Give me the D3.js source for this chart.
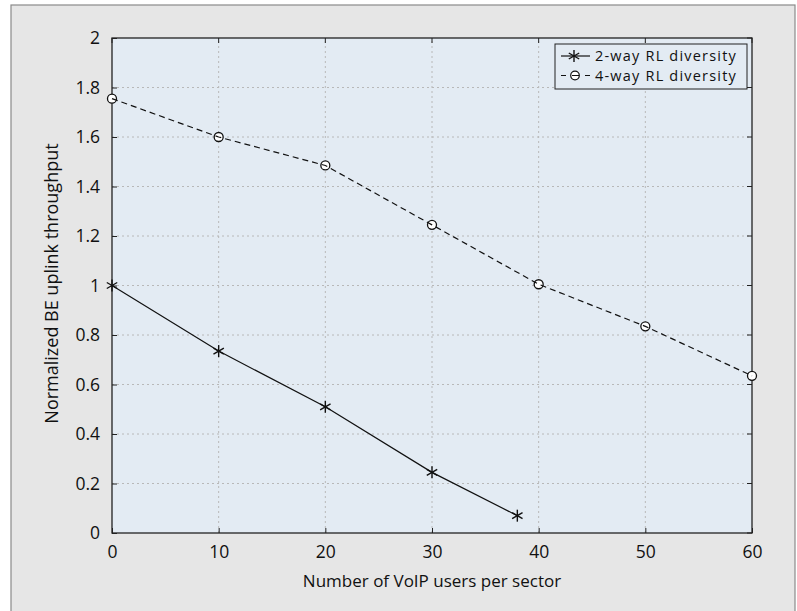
<!DOCTYPE html>
<html>
<head>
<meta charset="utf-8">
<script src="https://cdn.jsdelivr.net/npm/d3@7"></script>
<style>
  body { margin: 0; background: #fff; }
  svg text { font-family: "Open Sans", "Noto Sans", sans-serif; fill: #111; }
</style>
</head>
<body>
<div id="chart"></div>
<script>
// chart data
const users2 = [0, 10, 20, 30, 38];
const thr2 = [1.0, 0.735, 0.51, 0.245, 0.07];
const users4 = [0, 10, 20, 30, 40, 50, 60];
const thr4 = [1.755, 1.6, 1.485, 1.245, 1.005, 0.835, 0.635];
const xTicks = [0, 10, 20, 30, 40, 50, 60];
const yTicks = [0, 0.2, 0.4, 0.6, 0.8, 1, 1.2, 1.4, 1.6, 1.8, 2];
const seriesNames = ["2-way RL diversity", "4-way RL diversity"];

const W = 797, H = 611;
const M = {left: 112, right: 45, top: 38, bottom: 78};

const svg = d3.select('#chart').append('svg')
  .attr('width', W).attr('height', H);

// outer grey panel
svg.append('rect')
  .attr('x', 11).attr('y', 5).attr('width', 784).attr('height', 620)
  .attr('fill', '#e6e6e6').attr('stroke', '#8a8a8a').attr('stroke-width', 1.2);

const x = d3.scaleLinear().domain([0, 60]).range([M.left, W - M.right]);
const y = d3.scaleLinear().domain([0, 2]).range([H - M.bottom, M.top]);

// plot background
svg.append('rect')
  .attr('x', x(0)).attr('y', y(2))
  .attr('width', x(60) - x(0)).attr('height', y(0) - y(2))
  .attr('fill', '#e3ebf3');

// grid
svg.append('g').selectAll('line').data(xTicks.slice(1, -1)).join('line')
  .attr('x1', d => x(d)).attr('x2', d => x(d))
  .attr('y1', y(0)).attr('y2', y(2))
  .attr('stroke', '#b8b8b8').attr('stroke-dasharray', '2,3');
svg.append('g').selectAll('line').data(yTicks.slice(1, -1)).join('line')
  .attr('x1', x(0)).attr('x2', x(60))
  .attr('y1', d => y(d)).attr('y2', d => y(d))
  .attr('stroke', '#b8b8b8').attr('stroke-dasharray', '2,3');

// axes, ticks pointing inward
const xAxis = svg.append('g')
  .attr('transform', `translate(0,${y(0)})`)
  .call(d3.axisBottom(x).tickValues(xTicks).tickSize(-5).tickPadding(13).tickFormat(d3.format('d')));
const yAxis = svg.append('g')
  .attr('transform', `translate(${x(0)},0)`)
  .call(d3.axisLeft(y).tickValues(yTicks).tickSize(-5).tickPadding(12).tickFormat(d => String(+d.toFixed(1))));
[xAxis, yAxis].forEach(g => {
  g.attr('font-size', 17.5).attr('font-family', null);
  g.select('.domain').remove();
  g.selectAll('.tick line').attr('stroke', '#222');
  g.selectAll('.tick text').style('font-size', '17.5px');
});
// top / right ticks
svg.append('g').selectAll('line').data(xTicks).join('line')
  .attr('x1', d => x(d)).attr('x2', d => x(d))
  .attr('y1', y(2)).attr('y2', y(2) + 5).attr('stroke', '#222');
svg.append('g').selectAll('line').data(yTicks).join('line')
  .attr('x1', x(60)).attr('x2', x(60) - 5)
  .attr('y1', d => y(d)).attr('y2', d => y(d)).attr('stroke', '#222');

// frame
svg.append('rect')
  .attr('x', x(0)).attr('y', y(2))
  .attr('width', x(60) - x(0)).attr('height', y(0) - y(2))
  .attr('fill', 'none').attr('stroke', '#222').attr('stroke-width', 1.3);

// axis labels
svg.append('text')
  .attr('x', (x(0) + x(60)) / 2).attr('y', 587)
  .attr('text-anchor', 'middle').style('font-size', '17px')
  .text('Number of VoIP users per sector');
svg.append('text')
  .attr('transform', `translate(58,${(y(0) + y(2)) / 2 - 2}) rotate(-90)`)
  .attr('text-anchor', 'middle').style('font-size', '18px')
  .text('Normalized BE uplink throughput');

// lines
const d2 = users2.map((u, i) => [u, thr2[i]]);
const d4 = users4.map((u, i) => [u, thr4[i]]);
const line = d3.line().x(d => x(d[0])).y(d => y(d[1]));

// markers (drawn under the lines)
function star(g, cx, cy, r) {
  [0, 60, 120].forEach(a => {
    const rad = a * Math.PI / 180;
    g.append('line')
      .attr('x1', cx - r * Math.sin(rad)).attr('y1', cy - r * Math.cos(rad))
      .attr('x2', cx + r * Math.sin(rad)).attr('y2', cy + r * Math.cos(rad))
      .attr('stroke', '#111').attr('stroke-width', 1.4);
  });
}
const mk = svg.append('g');
d2.forEach(d => star(mk, x(d[0]), y(d[1]), 6));
mk.selectAll('circle').data(d4).join('circle')
  .attr('cx', d => x(d[0])).attr('cy', d => y(d[1])).attr('r', 4.5)
  .attr('fill', '#fff').attr('stroke', '#111').attr('stroke-width', 1.3);

svg.append('path').datum(d2).attr('d', line)
  .attr('fill', 'none').attr('stroke', '#111').attr('stroke-width', 1.2);
svg.append('path').datum(d4).attr('d', line)
  .attr('fill', 'none').attr('stroke', '#111').attr('stroke-width', 1.2)
  .attr('stroke-dasharray', '6,4');

// legend
const lg = svg.append('g');
lg.append('rect').attr('x', 555).attr('y', 44).attr('width', 192).attr('height', 45)
  .attr('fill', '#e3ebf3').attr('stroke', '#222').attr('stroke-width', 1);
star(lg, 574, 56, 6);
lg.append('line').attr('x1', 561).attr('x2', 590).attr('y1', 56).attr('y2', 56)
  .attr('stroke', '#111').attr('stroke-width', 1.2);
lg.append('circle').attr('cx', 575).attr('cy', 75.5).attr('r', 4.3)
  .attr('fill', '#fff').attr('stroke', '#111').attr('stroke-width', 1.2);
lg.append('line').attr('x1', 561).attr('x2', 590).attr('y1', 75.5).attr('y2', 75.5)
  .attr('stroke', '#111').attr('stroke-width', 1.2).attr('stroke-dasharray', '5,6,7,6,5');
lg.selectAll('text.lab').data(seriesNames).join('text')
  .attr('class', 'lab')
  .attr('x', 595).attr('y', (d, i) => 56 + i * 19.5).attr('dy', '0.35em')
  .style('font-size', '14.5px').style('letter-spacing', '1.2px')
  .text(d => d);
</script>
</body>
</html>
